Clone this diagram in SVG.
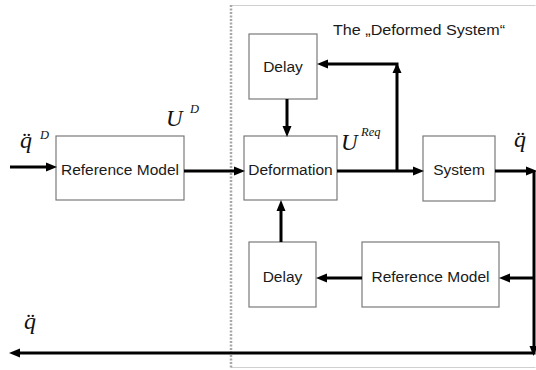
<svg xmlns="http://www.w3.org/2000/svg" width="536" height="370" viewBox="0 0 536 370">
  <style>
    .box { fill: #ffffff; stroke: #7a7a7a; stroke-width: 1.2; }
    .lbl { font-family: "Liberation Sans", Arial, sans-serif; font-size: 15.5px; fill: #1a1a1a; text-anchor: middle; }
    .math { font-family: "Liberation Serif", "Times New Roman", serif; font-style: italic; fill: #111111; }
    .wire { fill: none; stroke: #000000; stroke-width: 3; }
    .head { fill: #000000; }
  </style>

  <rect width="536" height="370" fill="#ffffff"/>

  <!-- boundary of the deformed system -->
  <g id="deformed-system-frame">
    <path d="M231,5.5 H535.5 M231,367.5 H535.5" fill="none" stroke="#cfcfcf" stroke-width="1"/>
    <line x1="231" y1="5" x2="231" y2="368" stroke="#a8a8a8" stroke-width="2.5" stroke-dasharray="2 1.5"/>
    <text x="333" y="35" font-family="Liberation Sans, Arial, sans-serif" font-size="14" fill="#1a1a1a" textLength="172" lengthAdjust="spacingAndGlyphs">The „Deformed System“</text>
  </g>

  <!-- blocks -->
  <g id="reference-model-in">
    <rect class="box" x="56" y="136" width="128" height="64"/>
    <text class="lbl" x="120" y="175">Reference Model</text>
  </g>
  <g id="delay-top">
    <rect class="box" x="249" y="34" width="68" height="65"/>
    <text class="lbl" x="283" y="72">Delay</text>
  </g>
  <g id="deformation">
    <rect class="box" x="244" y="136" width="93" height="64"/>
    <text class="lbl" x="290.5" y="175">Deformation</text>
  </g>
  <g id="system">
    <rect class="box" x="423" y="136" width="72" height="65"/>
    <text class="lbl" x="459" y="175">System</text>
  </g>
  <g id="delay-bottom">
    <rect class="box" x="249" y="242" width="67" height="65"/>
    <text class="lbl" x="282.5" y="282">Delay</text>
  </g>
  <g id="reference-model-loop">
    <rect class="box" x="362" y="242" width="137" height="65"/>
    <text class="lbl" x="430.5" y="282">Reference Model</text>
  </g>

  <!-- signal labels -->
  <g id="signal-labels">
    <text class="math" x="20" y="148" font-size="24">q̈</text>
    <text class="math" x="40" y="139" font-size="12.5">D</text>
    <text class="math" x="166" y="126" font-size="23">U</text>
    <text class="math" x="190" y="113" font-size="12.5">D</text>
    <text class="math" x="341" y="150" font-size="23">U</text>
    <text class="math" x="361" y="136" font-size="12.5">Req</text>
    <text class="math" x="514" y="147" font-size="24">q̈</text>
    <text class="math" x="24" y="329" font-size="24">q̈</text>
  </g>

  <!-- connectors -->
  <g id="connectors">
    <path class="wire" d="M10,167 H48"/>
    <polygon class="head" points="57,167 46,162.5 46,171.5"/>

    <path class="wire" d="M184,171 H236"/>
    <polygon class="head" points="245,171 234,166.5 234,175.5"/>

    <path class="wire" d="M337,171 H415"/>
    <polygon class="head" points="424,171 413,166.5 413,175.5"/>

    <path class="wire" d="M397,171 V64 H326"/>
    <polygon class="head" points="397,63 392.5,73 401.5,73"/>
    <polygon class="head" points="317,64 328,59.5 328,68.5"/>

    <path class="wire" d="M287,99 V128"/>
    <polygon class="head" points="287,137 282.5,126 291.5,126"/>

    <path class="wire" d="M495,171 H528"/>
    <polygon class="head" points="537,171 526,166.5 526,175.5"/>

    <path class="wire" d="M534,171 V353 H18"/>
    <polygon class="head" points="533.5,356 529.5,346 537.5,346"/>
    <polygon class="head" points="9,353 20,348.5 20,357.5"/>

    <path class="wire" d="M534,278 H507"/>
    <polygon class="head" points="499,278 510,273.5 510,282.5"/>

    <path class="wire" d="M362,278 H324"/>
    <polygon class="head" points="316,278 327,273.5 327,282.5"/>

    <path class="wire" d="M281,242 V208"/>
    <polygon class="head" points="281,200 276.5,211 285.5,211"/>
  </g>
</svg>
